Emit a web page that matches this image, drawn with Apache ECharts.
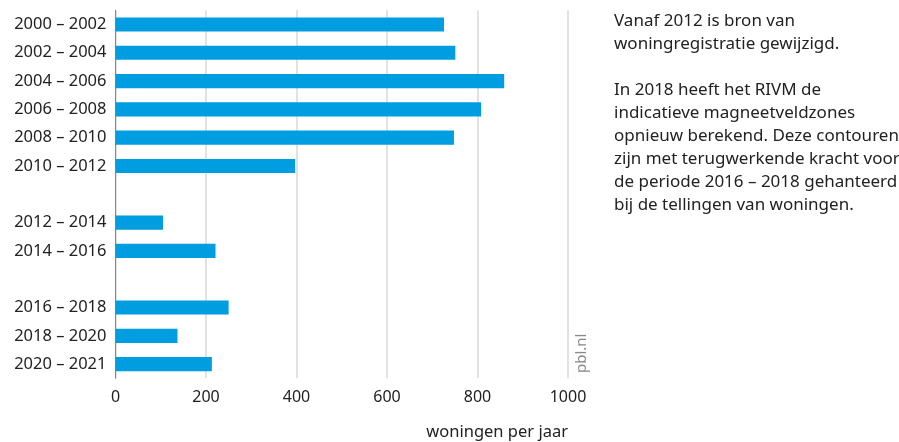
<!DOCTYPE html>
<html>
<head>
<meta charset="utf-8">
<script src="https://cdn.jsdelivr.net/npm/echarts@6/dist/echarts.min.js"></script>
<style>
  html, body { margin: 0; padding: 0; background: #fff; }
  #Chart { width: 899px; height: 442px; }
</style>
</head>
<body>
<div id="Chart"></div>
<script>
// periodes (lege regels zijn witruimte tussen de groepen)
const periods = [
  "2000 – 2002", "2002 – 2004", "2004 – 2006", "2006 – 2008", "2008 – 2010", "2010 – 2012",
  "",
  "2012 – 2014", "2014 – 2016",
  "",
  "2016 – 2018", "2018 – 2020", "2020 – 2021"
]
const woningen = [726, 751, 859, 808, 748, 397, null, 105, 221, null, 250, 137, 213]
const xTicks = [0, 200, 400, 600, 800, 1000]
const note = [
  "Vanaf 2012 is bron van",
  "woningregistratie gewijzigd.",
  "",
  "In 2018 heeft het RIVM de",
  "indicatieve magneetveldzones",
  "opnieuw berekend. Deze contouren",
  "zijn met terugwerkende kracht voor",
  "de periode 2016 – 2018 gehanteerd",
  "bij de tellingen van woningen."
]

const font = "\"Noto Sans\", \"Open Sans\", sans-serif"
const chart = echarts.init(document.getElementById("Chart"), null, { renderer: "canvas" })

const option = {
  animation: false,
  textStyle: { fontFamily: font },
  grid: {
    left: 115.5,
    right: 331,
    top: 10.3,
    bottom: 63.7
  },
  xAxis: {
    type: "value",
    min: xTicks[0],
    max: xTicks[xTicks.length - 1],
    interval: 200,
    axisLine: { show: false },
    axisTick: { show: false },
    axisLabel: { color: "#222", fontSize: 16, margin: 11, formatter: v => String(v) },
    splitLine: { lineStyle: { color: "#d9d9d9", width: 1.5 } },
    name: "woningen per jaar",
    nameLocation: "end",
    nameGap: 0,
    nameTextStyle: {
      color: "#222",
      fontSize: 16.5,
      align: "right",
      verticalAlign: "top",
      padding: [45, 0, 0, 0]
    }
  },
  yAxis: {
    type: "category",
    inverse: true,
    data: periods,
    axisLine: { show: true, lineStyle: { color: "#888", width: 1 } },
    axisTick: { show: false },
    axisLabel: { color: "#222", fontSize: 16.5, margin: 9 }
  },
  series: [
    {
      type: "bar",
      data: woningen,
      barWidth: "50%",
      itemStyle: { color: "#009ee0" }
    }
  ],
  graphic: [
    {
      type: "text",
      left: 614,
      top: 10,
      style: {
        text: note.join("\n"),
        font: "17px " + font,
        fill: "#222",
        lineHeight: 23
      }
    },
    {
      type: "text",
      x: 574,
      y: 373,
      rotation: Math.PI / 2,
      style: {
        text: "pbl.nl",
        font: "15px " + font,
        fill: "#888",
        align: "left",
        verticalAlign: "top"
      }
    }
  ]
}

chart.setOption(option)
</script>
</body>
</html>
